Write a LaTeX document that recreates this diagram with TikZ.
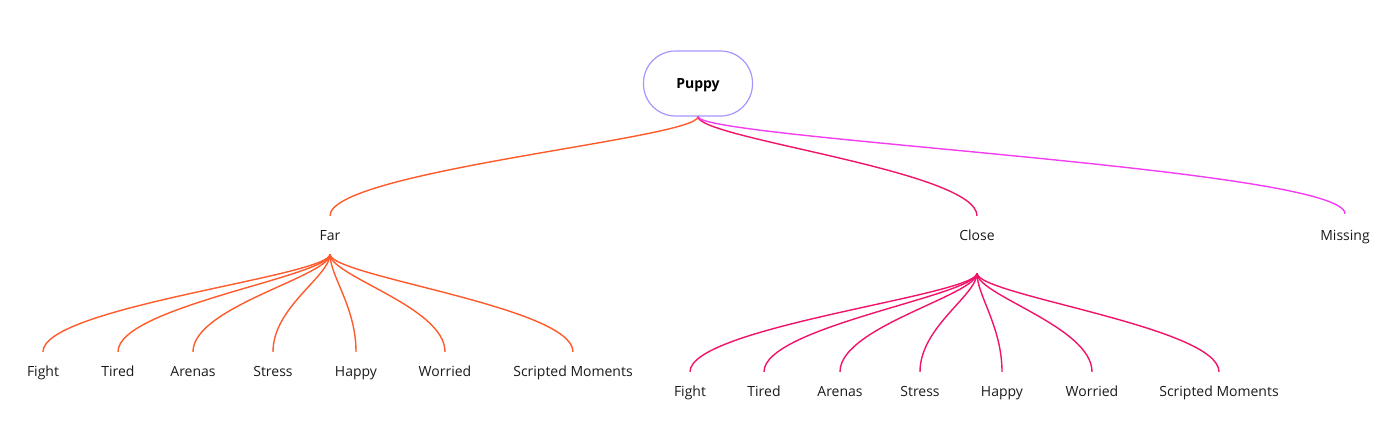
\documentclass[tikz,border=0pt]{standalone}
\usepackage{fontspec}
\setmainfont{Open Sans}
\definecolor{farc}{HTML}{FF5A2B}
\definecolor{closec}{HTML}{F0136A}
\definecolor{missc}{HTML}{F23DF0}
\definecolor{rootc}{HTML}{A596FF}
\definecolor{txtc}{HTML}{1A1A1A}
\begin{document}
\begin{tikzpicture}[x=1pt,y=-1pt,
  lbl/.style={font=\fontsize{14}{16}\selectfont, text=txtc, inner sep=0pt, text height=24pt, text depth=14pt, anchor=base},
  closelbl/.style={lbl, text depth=33pt},
  rootbox/.style={draw=rootc, line width=1.2pt, rounded corners=32pt, minimum width=109pt, minimum height=65pt, text height=10pt, text depth=0pt, font=\fontsize{14}{16}\selectfont\bfseries, text=black},
  link/.style={line width=1.4pt}]
\useasboundingbox (0,0) rectangle (1400,442);
\node[rootbox] (root) at (698,83.5) {Puppy};
\node[lbl] (far) at (330,240) {Far};
\node[closelbl] (close) at (977,240) {Close};
\node[lbl, text height=26pt] (miss) at (1345,240) {Missing};
% far leaves
\node[lbl] (f1) at (43,376) {Fight};
\node[lbl] (f2) at (118,376) {Tired};
\node[lbl] (f3) at (193,376) {Arenas};
\node[lbl] (f4) at (273,376) {Stress};
\node[lbl] (f5) at (356,376) {Happy};
\node[lbl] (f6) at (445,376) {Worried};
\node[lbl] (f7) at (573,376) {Scripted Moments};
% close leaves
\node[lbl] (c1) at (690,396) {Fight};
\node[lbl] (c2) at (764,396) {Tired};
\node[lbl] (c3) at (840,396) {Arenas};
\node[lbl] (c4) at (920,396) {Stress};
\node[lbl] (c5) at (1002,396) {Happy};
\node[lbl] (c6) at (1092,396) {Worried};
\node[lbl] (c7) at (1219,396) {Scripted Moments};
% root links
\draw[link, farc] (root.south) .. controls +(0,22) and +(0,-45) .. (far.north);
\draw[link, closec] (root.south) .. controls +(0,22) and +(0,-45) .. (close.north);
\draw[link, missc] (root.south) .. controls +(0,22) and +(0,-45) .. (miss.north);
% far links
\foreach \n in {f1,f2,f3,f4,f5,f6,f7}
  \draw[link, farc] (far.south) .. controls +(0,22) and +(0,-45) .. (\n.north);
\foreach \n in {c1,c2,c3,c4,c5,c6,c7}
  \draw[link, closec] (close.south) .. controls +(0,22) and +(0,-45) .. (\n.north);
\end{tikzpicture}
\end{document}
